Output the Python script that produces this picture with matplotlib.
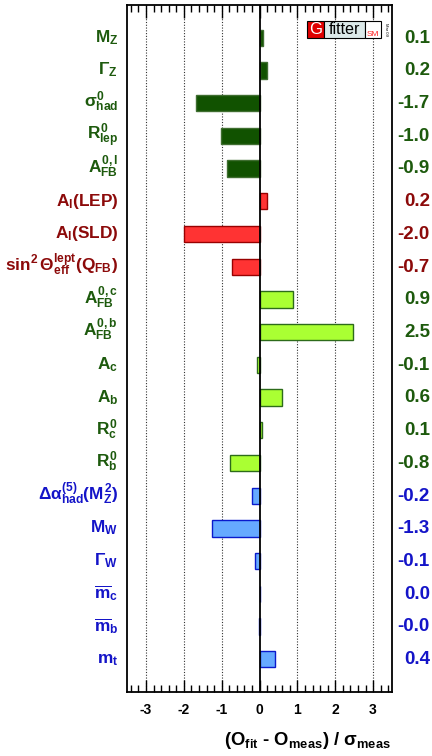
import matplotlib
matplotlib.use("Agg")
import matplotlib.pyplot as plt
from matplotlib.patches import Rectangle
import matplotlib.transforms as mtransforms
import numpy as np

# pull values (O_fit - O_meas) / sigma_meas, top to bottom
labels = [
    r'$M_Z$', r'$\Gamma_Z$', r'$\sigma^0_{had}$', r'$R^0_{lep}$', r'$A^{0,l}_{FB}$',
    r'$A_l(LEP)$', r'$A_l(SLD)$', r'$\sin^2\Theta^{lept}_{eff}(Q_{FB})$',
    r'$A^{0,c}_{FB}$', r'$A^{0,b}_{FB}$', r'$A_c$', r'$A_b$', r'$R^0_c$', r'$R^0_b$',
    r'$\Delta\alpha^{(5)}_{had}(M^2_Z)$', r'$M_W$', r'$\Gamma_W$',
    r'$\overline{m}_c$', r'$\overline{m}_b$', r'$m_t$',
]
pulls = [0.1, 0.2, -1.69, -1.03, -0.86,
         0.21, -2.0, -0.73,
         0.88, 2.48, -0.07, 0.59, 0.06, -0.79,
         -0.2, -1.26, -0.13, 0.01, -0.02, 0.42]
groups = ['z'] * 5 + ['lep'] * 3 + ['hf'] * 6 + ['ew'] * 6

bar_colors = {'z': '#115200', 'lep': '#ff3333', 'hf': '#aaff33', 'ew': '#66aaff'}
edge_colors = {'z': '#3f6e30', 'lep': '#990000', 'hf': '#2d6b1a', 'ew': '#0a1acc'}
text_colors = {'z': '#1d5a0d', 'lep': '#8c0a0a', 'hf': '#1d5a0d', 'ew': '#1414c8'}

plt.rcParams['font.family'] = 'Liberation Sans'
plt.rcParams['font.weight'] = 'bold'
plt.rcParams['axes.unicode_minus'] = False
plt.rcParams['mathtext.fontset'] = 'custom'
plt.rcParams['mathtext.rm'] = 'Liberation Sans:bold'
plt.rcParams['mathtext.it'] = 'Liberation Sans:bold'
plt.rcParams['mathtext.bf'] = 'Liberation Sans:bold'

W, H = 432, 756
fig = plt.figure(figsize=(W / 100, H / 100), dpi=100)
ax = fig.add_axes([127 / W, 64 / H, 265 / W, 687 / H])

y = np.arange(len(pulls))
for i, (v, g) in enumerate(zip(pulls, groups)):
    ax.barh(y[i], v, height=0.5, color=bar_colors[g], edgecolor=edge_colors[g],
            linewidth=1.0, zorder=3)

for xv in [-3, -2, -1, 1, 2, 3]:
    ax.axvline(xv, color='#333333', lw=0.8, linestyle=(0, (1, 1.5)), zorder=1)
ax.axvline(0, color='black', lw=1.3, zorder=4)

ax.set_xlim(-3.5, 3.5)
ax.set_ylim(len(pulls), -1)
ax.set_yticks([])
ax.set_xticks(range(-3, 4))
ax.set_xticks(np.arange(-3.4, 3.5, 0.2), minor=True)
ax.tick_params(axis='x', which='both', direction='in', top=True, bottom=True,
               labelsize=10, width=1.0)
ax.tick_params(axis='x', which='major', length=9, pad=8)
ax.tick_params(axis='x', which='minor', length=5)
for lab in ax.get_xticklabels():
    lab.set_fontweight('bold')
for sp in ax.spines.values():
    sp.set_linewidth(1.3)

trans_l = mtransforms.blended_transform_factory(ax.transAxes, ax.transData)
for i, (lab, v, g) in enumerate(zip(labels, pulls, groups)):
    ax.text(-0.034, y[i] + 0.13, lab, transform=trans_l, ha='right', va='baseline',
            fontsize=12.4, color=text_colors[g], clip_on=False)
    ax.text(1.143, y[i] + 0.15, f"{v:.1f}", transform=trans_l, ha='right',
            va='baseline', fontsize=13.5, fontweight='bold', color=text_colors[g],
            clip_on=False)

fig.text(391 / W, 1 - 745 / H, r'(O$_{fit}$ - O$_{meas}$) / $\sigma_{meas}$',
         ha='right', va='baseline', fontsize=13.3)

# Gfitter logo
def px(x0, y0, w, h):
    return (x0 / W, 1 - (y0 + h) / H), w / W, h / H

for (x0, wd, fc) in [(307, 17, '#e00000'), (324, 41, '#dce9e9'), (365, 16, 'white')]:
    xy, ww, hh = px(x0, 21, wd, 17)
    fig.add_artist(Rectangle(xy, ww, hh, transform=fig.transFigure, facecolor=fc,
                             edgecolor='black', linewidth=0.8, zorder=10))
fig.text(315.5 / W, 1 - 29.5 / H, 'G', color='white', fontsize=12, fontweight='normal',
         ha='center', va='center', zorder=11)
fig.text(344.5 / W, 1 - 29.5 / H, 'fitter', color='black', fontsize=11.5,
         fontweight='normal', ha='center', va='center', zorder=11)
fig.text(373 / W, 1 - 36.5 / H, 'SM', color='#ff2020', fontsize=6, fontweight='normal',
         ha='center', va='baseline', zorder=11)
fig.text(386 / W, 1 - 29.5 / H, 'Mar 09', color='black', fontsize=3, fontweight='normal',
         rotation=-90, ha='center', va='center', zorder=11)

fig.savefig('out.png', dpi=100)
